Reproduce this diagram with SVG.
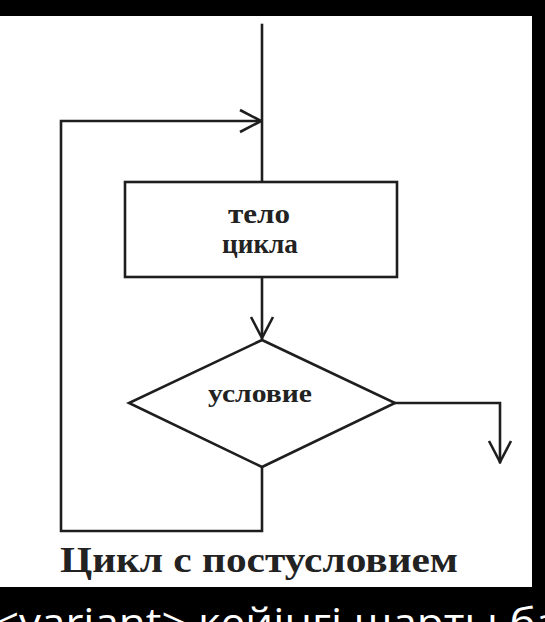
<svg xmlns="http://www.w3.org/2000/svg" width="545" height="622" viewBox="0 0 545 622">
<style>
.ln{stroke:#1e1e1e;stroke-width:2.6;fill:none;stroke-linecap:square}
.shape{stroke:#1e1e1e;stroke-width:2.6;fill:#ffffff}
.lbl{font-family:"Liberation Serif","Times New Roman",serif;font-weight:bold;fill:#222222}
.foot{font-family:"Open Sans","Noto Sans","Liberation Sans",sans-serif;fill:#ffffff}
</style>
<defs>
<marker id="chev" viewBox="0 0 24 26" refX="22" refY="13" markerWidth="24" markerHeight="26" markerUnits="userSpaceOnUse" orient="auto">
<path d="M1,2 L22,13 L1,24" fill="none" stroke="#1e1e1e" stroke-width="2.6"/>
</marker>
</defs>
<rect x="0" y="0" width="545" height="622" fill="#000000"/>
<rect x="0" y="16" width="532" height="571" fill="#ffffff"/>
<g id="connectors">
<path class="ln" d="M262,25 V182"/>
<path class="ln" d="M262,277 V338" marker-end="url(#chev)"/>
<path class="ln" d="M395,403 H500 V462" marker-end="url(#chev)"/>
<path class="ln" d="M262,467 V531 H61 V121 H261" marker-end="url(#chev)"/>
</g>
<g id="body">
<rect class="shape" x="125" y="182" width="272" height="95"/>
<text class="lbl" x="259" y="223" font-size="27" text-anchor="middle" textLength="62" lengthAdjust="spacingAndGlyphs">тело</text>
<text class="lbl" x="260" y="253" font-size="27" text-anchor="middle" textLength="76" lengthAdjust="spacingAndGlyphs">цикла</text>
</g>
<g id="condition">
<polygon class="shape" points="262,340 395,403 262,467 129,403"/>
<text class="lbl" x="208" y="402" font-size="26" textLength="104" lengthAdjust="spacingAndGlyphs">условие</text>
</g>
<g id="caption">
<text class="lbl" x="60" y="572" font-size="36" textLength="398" lengthAdjust="spacingAndGlyphs">Цикл с постусловием</text>
</g>
<g id="footer">
<text class="foot" x="-6" y="637" font-size="40" textLength="566" lengthAdjust="spacingAndGlyphs">&lt;variant&gt; кейінгі шарты ба</text>
</g>
</svg>
